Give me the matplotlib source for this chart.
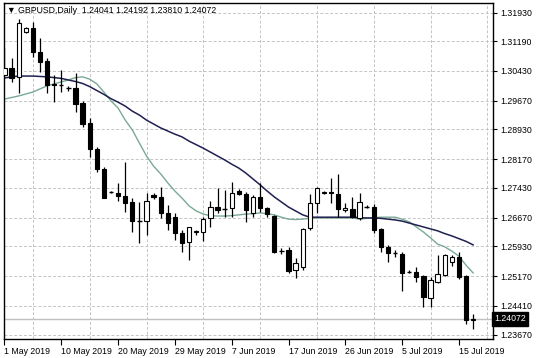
import matplotlib
matplotlib.use("Agg")
import matplotlib.pyplot as plt
from matplotlib.ticker import MultipleLocator

plt.rcParams['font.family'] = ['Liberation Sans', 'DejaVu Sans']

# daily GBPUSD bars, 1 May 2019 .. 17 Jul 2019 (incl. sunday bars)
opens = [1.30327, 1.30499, 1.30283, 1.31422, 1.31540, 1.30909, 1.30686, 1.30096, 1.30070, 1.30011,
         1.29986, 1.29601, 1.29088, 1.28429, 1.27916, 1.27340, 1.27308, 1.27223, 1.27062, 1.26597,
         1.26590, 1.27240, 1.27190, 1.26779, 1.26692, 1.26282, 1.26051, 1.26300, 1.26308, 1.26651,
         1.26949, 1.26890, 1.26908, 1.27359, 1.27275, 1.26795, 1.27190, 1.26908, 1.26710, 1.25800,
         1.25838, 1.25325, 1.25394, 1.26395, 1.27036, 1.27310, 1.27330, 1.27275, 1.26864, 1.26882,
         1.26651, 1.26940, 1.26949, 1.26369, 1.25924, 1.25760, 1.25735, 1.25270, 1.25282, 1.25171,
         1.24599, 1.25025, 1.25197, 1.25538, 1.25666, 1.25171, 1.24041]
highs = [1.31012, 1.30771, 1.31763, 1.31566, 1.31679, 1.31284, 1.30771, 1.30327, 1.30455, 1.30052,
         1.30370, 1.29660, 1.29216, 1.28488, 1.27975, 1.27359, 1.27549, 1.28103, 1.27164, 1.27070,
         1.27308, 1.27290, 1.27446, 1.26992, 1.26779, 1.26351, 1.26436, 1.26350, 1.26692, 1.27103,
         1.27421, 1.27377, 1.27590, 1.27395, 1.27333, 1.27249, 1.27564, 1.26949, 1.26736, 1.25890,
         1.25907, 1.25625, 1.26395, 1.27275, 1.27446, 1.27360, 1.27677, 1.27788, 1.27036, 1.27205,
         1.27308, 1.27000, 1.27018, 1.26395, 1.25966, 1.25838, 1.25795, 1.25320, 1.25394, 1.25197,
         1.25138, 1.25710, 1.25736, 1.25710, 1.25795, 1.25197, 1.24192]
lows = [1.30283, 1.30155, 1.29857, 1.31396, 1.30796, 1.30411, 1.29857, 1.29642, 1.29883, 1.29916,
        1.29386, 1.28997, 1.28231, 1.27846, 1.27164, 1.27300, 1.27095, 1.26821, 1.26300, 1.26025,
        1.26223, 1.27150, 1.26651, 1.26351, 1.26095, 1.25795, 1.25582, 1.26230, 1.26077, 1.26420,
        1.26779, 1.26692, 1.26692, 1.27249, 1.26557, 1.26692, 1.26820, 1.26692, 1.25769, 1.25740,
        1.25240, 1.25112, 1.25325, 1.26351, 1.26779, 1.27280, 1.27036, 1.26692, 1.26820, 1.26651,
        1.26608, 1.26920, 1.26282, 1.25795, 1.25538, 1.25666, 1.24794, 1.25240, 1.25025, 1.24384,
        1.24384, 1.24999, 1.25171, 1.25428, 1.25087, 1.23940, 1.23810]
closes = [1.30514, 1.30242, 1.31653, 1.31540, 1.30909, 1.30670, 1.30070, 1.30070, 1.30083, 1.29998,
          1.29575, 1.29062, 1.28429, 1.27916, 1.27180, 1.27330, 1.27230, 1.27051, 1.26590, 1.26590,
          1.27103, 1.27200, 1.26779, 1.26538, 1.26282, 1.26025, 1.26420, 1.26330, 1.26626, 1.26949,
          1.26864, 1.26910, 1.27292, 1.27275, 1.26864, 1.27190, 1.26908, 1.26762, 1.25795, 1.25820,
          1.25307, 1.25512, 1.26369, 1.27036, 1.27421, 1.27330, 1.27290, 1.26882, 1.26908, 1.26692,
          1.27077, 1.26960, 1.26351, 1.25907, 1.25753, 1.25750, 1.25240, 1.25290, 1.25138, 1.24640,
          1.25069, 1.25223, 1.25710, 1.25666, 1.25138, 1.24050, 1.24072]

# moving averages as drawn on the chart
ma_slow = [1.3025, 1.3028, 1.3030, 1.3030, 1.3030, 1.3029, 1.3028, 1.3026, 1.3024, 1.3020,
           1.3016, 1.3011, 1.3003, 1.2993, 1.2983, 1.2972, 1.2963, 1.2953, 1.2940, 1.2930,
           1.2917, 1.2907, 1.2897, 1.2889, 1.2881, 1.2874, 1.2863, 1.2854, 1.2845, 1.2835,
           1.2825, 1.2815, 1.2804, 1.2794, 1.2781, 1.2766, 1.2751, 1.2735, 1.2720, 1.2707,
           1.2694, 1.2684, 1.2674, 1.2668, 1.2668, 1.2668, 1.2668, 1.2668, 1.2668, 1.2668,
           1.2667, 1.2666, 1.2666, 1.2665, 1.2663, 1.2661, 1.2658, 1.2653, 1.2648, 1.2643,
           1.2638, 1.2633, 1.2626, 1.2620, 1.2613, 1.2606, 1.2597]
ma_fast = [1.2971, 1.2975, 1.2979, 1.2984, 1.2989, 1.2997, 1.3005, 1.3010, 1.3015, 1.3020,
           1.3026, 1.3028, 1.3022, 1.3010, 1.2989, 1.2966, 1.2948, 1.2917, 1.2892, 1.2858,
           1.2825, 1.2799, 1.2779, 1.2756, 1.2735, 1.2717, 1.2697, 1.2684, 1.2676, 1.2672,
           1.2671, 1.2671, 1.2672, 1.2674, 1.2676, 1.2677, 1.2679, 1.2677, 1.2674, 1.2668,
           1.2663, 1.2662, 1.2663, 1.2665, 1.2666, 1.2666, 1.2666, 1.2666, 1.2666, 1.2666,
           1.2663, 1.2665, 1.2667, 1.2668, 1.2668, 1.2668, 1.2663, 1.2656, 1.2643, 1.2630,
           1.2615, 1.2599, 1.2592, 1.2581, 1.2568, 1.2545, 1.2525]

date_pos = [0, 8, 16, 24, 32, 40, 48, 56, 64]
date_labels = ['1 May 2019', '10 May 2019', '20 May 2019', '29 May 2019', '7 Jun 2019',
               '17 Jun 2019', '26 Jun 2019', '5 Jul 2019', '15 Jul 2019']
price_ticks = [1.31930, 1.31190, 1.30430, 1.29670, 1.28930, 1.28170,
               1.27430, 1.26670, 1.25930, 1.25170, 1.24410, 1.23670]
last_price = 1.24072

fig = plt.figure(figsize=(5.36, 3.58), dpi=100)
ax = fig.add_axes([4/536, 1-339/358, 489/536, 336/358])

n = len(opens)
idx = list(range(n))

# current price line
ax.axhline(last_price, color='#c0c0c0', lw=1, zorder=1)

# wicks
ax.vlines(idx, lows, highs, color='black', lw=0.9, zorder=3)

# bodies
w = 0.6
for i in idx:
    o, c = opens[i], closes[i]
    if abs(c - o) < 0.0002:
        ax.hlines((o + c) / 2, i - w/2, i + w/2, color='black', lw=1, zorder=4)
    else:
        fc = 'white' if c > o else 'black'
        ax.bar(i, abs(c - o), bottom=min(o, c), width=w, facecolor=fc,
               edgecolor='black', linewidth=0.8, zorder=4)

ax.plot(idx, ma_fast, color='#79a994', lw=1.0, zorder=2)
ax.plot(idx, ma_slow, color='#1f2050', lw=1.1, zorder=2)

ax.set_xlim(-0.07, 68.8)
ax.set_ylim(1.23556, 1.32174)

ax.set_xticks(date_pos)
ax.set_xticklabels(date_labels, ha='left', fontsize=6.3)
ax.xaxis.set_minor_locator(MultipleLocator(4))
ax.tick_params(axis='x', which='major', length=4, width=0.8, pad=1.5)
ax.tick_params(axis='x', which='minor', length=0)

ax.yaxis.tick_right()
ax.set_yticks(price_ticks)
ax.set_yticklabels(['%.5f' % p for p in price_ticks], fontsize=6.3)
ax.tick_params(axis='y', length=3, width=0.8, pad=2)

ax.grid(which='minor', axis='x', color='#c4c4c4', lw=0.7, linestyle=(0, (3, 2)))
ax.grid(which='major', axis='y', color='#c4c4c4', lw=0.7, linestyle=(0, (3, 2)))
ax.set_axisbelow(True)

for s in ax.spines.values():
    s.set_color('black')
    s.set_linewidth(1)

ax.text(1.003, last_price, '%.5f' % last_price, transform=ax.get_yaxis_transform(),
        fontsize=6.3, color='white', va='center', ha='left', clip_on=False,
        bbox=dict(boxstyle='square,pad=0.25', facecolor='black', edgecolor='black'))

fig.text(7/536, 1-10.5/358, '\u25bc GBPUSD,Daily  1.24041 1.24192 1.23810 1.24072',
         fontsize=6.3, va='center', ha='left')

fig.savefig('out.png', dpi=100)
